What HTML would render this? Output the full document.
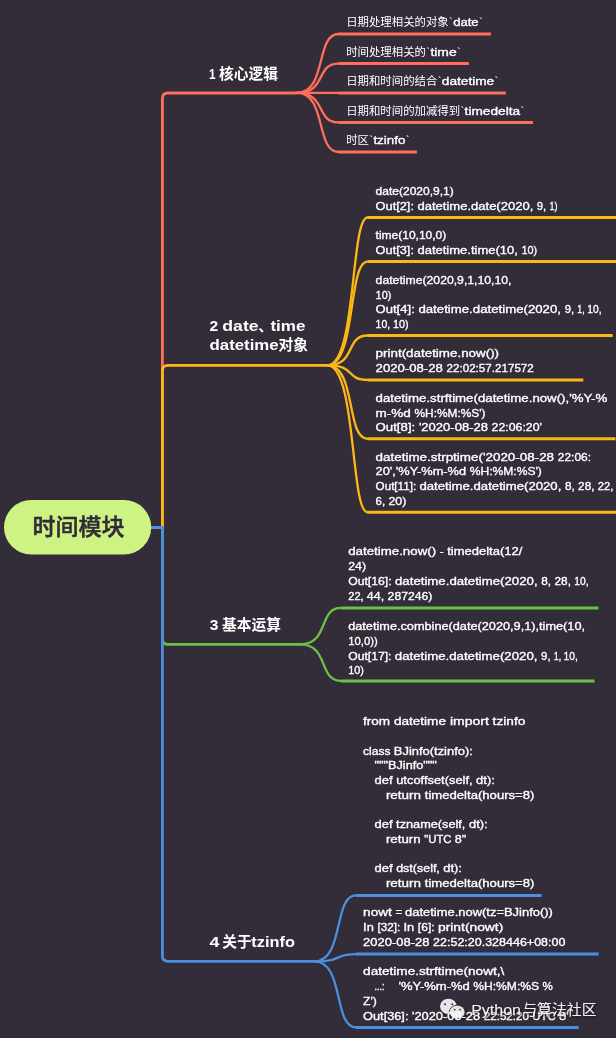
<!DOCTYPE html>
<html lang="zh-CN">
<head>
<meta charset="utf-8">
<title>时间模块</title>
<style>
html,body{margin:0;padding:0;background:#332c39;}
body{width:616px;height:1038px;overflow:hidden;}
svg{display:block;opacity:0.999;}
text{font-family:"Liberation Sans","Noto Sans CJK SC",sans-serif;fill:#fff;white-space:pre;}
.t text{font-size:11.6px;}
.t .l{stroke:#fff;stroke-width:0.35px;}
.t .c{font-size:11.4px;}
.title text{font-size:14.7px;font-weight:700;}
.root{font-size:23px;font-weight:500;fill:#322c3a;stroke:#322c3a;stroke-width:0.5px;}
.wm{font-size:14.9px;fill:#f2f2f2;}
</style>
</head>
<body>
<svg width="616" height="1038" viewBox="0 0 616 1038">
<defs><filter id="sh" x="-10%" y="-30%" width="120%" height="160%"><feGaussianBlur in="SourceAlpha" stdDeviation="0.9"/><feOffset dx="0.5" dy="1" result="b"/><feComponentTransfer><feFuncA type="linear" slope="0.7"/></feComponentTransfer><feMerge><feMergeNode/><feMergeNode in="SourceGraphic"/></feMerge></filter></defs>
<g fill="none" stroke-linecap="round" stroke-linejoin="round">
<path d="M150,527.3 H162.4 V98.5 Q162.4,93.0 167.9,93.0 H297" stroke="#ff6f59" stroke-width="2.8"/>
<path d="M297,92.9 C326.9,92.9 315.3,34.0 338.5,34.0" stroke="#ff6f59" stroke-width="2.3"/>
<path d="M338.5,34.0 H490.9" stroke="#ff6f59" stroke-width="3.0" stroke-linecap="butt"/>
<path d="M297,92.9 C326.9,92.9 315.3,63.6 338.5,63.6" stroke="#ff6f59" stroke-width="2.3"/>
<path d="M338.5,63.6 H468.9" stroke="#ff6f59" stroke-width="3.0" stroke-linecap="butt"/>
<path d="M297,92.9 C326.9,92.9 315.3,92.9 338.5,92.9" stroke="#ff6f59" stroke-width="2.3"/>
<path d="M338.5,92.9 H505.9" stroke="#ff6f59" stroke-width="3.0" stroke-linecap="butt"/>
<path d="M297,92.9 C326.9,92.9 315.3,122.4 338.5,122.4" stroke="#ff6f59" stroke-width="2.3"/>
<path d="M338.5,122.4 H533" stroke="#ff6f59" stroke-width="3.0" stroke-linecap="butt"/>
<path d="M297,92.9 C326.9,92.9 315.3,152.0 338.5,152.0" stroke="#ff6f59" stroke-width="2.3"/>
<path d="M338.5,152.0 H417" stroke="#ff6f59" stroke-width="3.0" stroke-linecap="butt"/>
<path d="M150,527.3 H162.4 V370.8 Q162.4,365.3 167.9,365.3 H327.5" stroke="#fdb813" stroke-width="2.8"/>
<path d="M327.5,365.3 C356.3,365.3 350.6,217.5 367.5,217.5" stroke="#fdb813" stroke-width="2.3"/>
<path d="M367.5,217.5 H620" stroke="#fdb813" stroke-width="3.0" stroke-linecap="butt"/>
<path d="M327.5,365.3 C356.3,365.3 347.8,261.6 367.5,261.6" stroke="#fdb813" stroke-width="2.3"/>
<path d="M367.5,261.6 H620" stroke="#fdb813" stroke-width="3.0" stroke-linecap="butt"/>
<path d="M327.5,365.3 C356.3,365.3 345.1,335.5 367.5,335.5" stroke="#fdb813" stroke-width="2.3"/>
<path d="M367.5,335.5 H612.7" stroke="#fdb813" stroke-width="3.0" stroke-linecap="butt"/>
<path d="M327.5,365.3 C356.3,365.3 345.1,379.9 367.5,379.9" stroke="#fdb813" stroke-width="2.3"/>
<path d="M367.5,379.9 H583.3" stroke="#fdb813" stroke-width="3.0" stroke-linecap="butt"/>
<path d="M327.5,365.3 C356.3,365.3 345.9,438.8 367.5,438.8" stroke="#fdb813" stroke-width="2.3"/>
<path d="M367.5,438.8 H615.5" stroke="#fdb813" stroke-width="3.0" stroke-linecap="butt"/>
<path d="M327.5,365.3 C356.3,365.3 350.5,512.3 367.5,512.3" stroke="#fdb813" stroke-width="2.3"/>
<path d="M367.5,512.3 H620" stroke="#fdb813" stroke-width="3.0" stroke-linecap="butt"/>
<path d="M150,527.3 H162.4 V638.9 Q162.4,644.4 167.9,644.4 H300" stroke="#6cc04a" stroke-width="2.8"/>
<path d="M300,644.4 C329.5,644.4 318.0,607.9 341,607.9" stroke="#6cc04a" stroke-width="2.3"/>
<path d="M341,607.9 H598.5" stroke="#6cc04a" stroke-width="3.0" stroke-linecap="butt"/>
<path d="M300,644.4 C329.5,644.4 318.0,680.9 341,680.9" stroke="#6cc04a" stroke-width="2.3"/>
<path d="M341,680.9 H594.5" stroke="#6cc04a" stroke-width="3.0" stroke-linecap="butt"/>
<path d="M150,527.3 H162.4 V955.8 Q162.4,961.3 167.9,961.3 H314.5" stroke="#4a8fe0" stroke-width="2.8"/>
<path d="M314.5,961.3 C344.4,961.3 333.1,895.4 356,895.4" stroke="#4a8fe0" stroke-width="2.3"/>
<path d="M356,895.4 H541.6" stroke="#4a8fe0" stroke-width="3.0" stroke-linecap="butt"/>
<path d="M314.5,961.3 C344.4,961.3 332.8,954.1 356,954.1" stroke="#4a8fe0" stroke-width="2.3"/>
<path d="M356,954.1 H598.6" stroke="#4a8fe0" stroke-width="3.0" stroke-linecap="butt"/>
<path d="M314.5,961.3 C344.4,961.3 333.2,1027.4 356,1027.4" stroke="#4a8fe0" stroke-width="2.3"/>
<path d="M356,1027.4 H578.7" stroke="#4a8fe0" stroke-width="3.0" stroke-linecap="butt"/>
</g>
<rect x="4" y="500" width="147.2" height="54.6" rx="27.3" ry="27.3" fill="#cdf483"/>
<text class="root" x="78.5" y="535" text-anchor="middle">时间模块</text>
<g class="title">
<text y="79.3"><tspan x="209.0" textLength="6.6" lengthAdjust="spacingAndGlyphs">1</tspan><tspan x="219.1">核心逻辑</tspan></text>
<text y="330.6"><tspan x="209.6" textLength="8.7" lengthAdjust="spacingAndGlyphs">2</tspan><tspan x="222.3" textLength="36.3" lengthAdjust="spacingAndGlyphs">date</tspan><tspan x="258.3">、</tspan><tspan x="270.4" textLength="35.0" lengthAdjust="spacingAndGlyphs">time</tspan></text>
<text y="350.4"><tspan x="209.5" textLength="69.2" lengthAdjust="spacingAndGlyphs">datetime</tspan><tspan x="278.5">对象</tspan></text>
<text y="629.6"><tspan x="209.8" textLength="8.7" lengthAdjust="spacingAndGlyphs">3</tspan><tspan x="222.1">基本运算</tspan></text>
<text y="946.7"><tspan x="209.6" textLength="9.9" lengthAdjust="spacingAndGlyphs">4</tspan><tspan x="222.3">关于</tspan><tspan x="251.3" textLength="43.6" lengthAdjust="spacingAndGlyphs">tzinfo</tspan></text>
</g>
<g filter="url(#sh)">
<ellipse cx="448.4" cy="1006.3" rx="8.4" ry="7.6" fill="#e6e6e6"/>
<ellipse cx="457.2" cy="1012.1" rx="7.9" ry="6.9" fill="#e6e6e6" stroke="#3a3440" stroke-width="0.9"/>
<g fill="#3a3440"><circle cx="445" cy="1004.2" r="1"/><circle cx="452.2" cy="1004.2" r="1"/><circle cx="454.7" cy="1009.6" r="0.9"/><circle cx="460" cy="1009.6" r="0.9"/></g>
</g>
<g class="t">
<text y="26.2"><tspan class="c" x="346.2">日期处理相关的对象</tspan><tspan class="bt" x="449.1">`</tspan><tspan class="l" x="453.2" textLength="25.4" lengthAdjust="spacingAndGlyphs">date</tspan><tspan class="bt" x="478.9">`</tspan></text>
<text y="55.8"><tspan class="c" x="346.2">时间处理相关的</tspan><tspan class="bt" x="426.3">`</tspan><tspan class="l" x="430.4" textLength="26.3" lengthAdjust="spacingAndGlyphs">time</tspan><tspan class="bt" x="457.0">`</tspan></text>
<text y="85.1"><tspan class="c" x="346.2">日期和时间的结合</tspan><tspan class="bt" x="437.7">`</tspan><tspan class="l" x="441.8" textLength="52.4" lengthAdjust="spacingAndGlyphs">datetime</tspan><tspan class="bt" x="494.5">`</tspan></text>
<text y="114.6"><tspan class="c" x="346.2">日期和时间的加减得到</tspan><tspan class="bt" x="460.5">`</tspan><tspan class="l" x="464.6" textLength="55.5" lengthAdjust="spacingAndGlyphs">timedelta</tspan><tspan class="bt" x="520.4">`</tspan></text>
<text y="144.2"><tspan class="c" x="346.2">时区</tspan><tspan class="bt" x="369.3">`</tspan><tspan class="l" x="373.4" textLength="32.1" lengthAdjust="spacingAndGlyphs">tzinfo</tspan><tspan class="bt" x="405.8">`</tspan></text>
<text y="195.1"><tspan class="l" x="375.6" textLength="78.2" lengthAdjust="spacingAndGlyphs">date(2020,9,1)</tspan></text>
<text y="209.8"><tspan class="l" x="375.6" textLength="41.9" lengthAdjust="spacingAndGlyphs">Out[2]: </tspan><tspan class="l" x="417.5" textLength="119.4" lengthAdjust="spacingAndGlyphs">datetime.date(2020, </tspan><tspan class="l" x="536.8" textLength="12.6" lengthAdjust="spacingAndGlyphs">9, </tspan><tspan class="l" x="549.4" textLength="8.1" lengthAdjust="spacingAndGlyphs">1)</tspan></text>
<text y="238.9"><tspan class="l" x="375.6" textLength="70.7" lengthAdjust="spacingAndGlyphs">time(10,10,0)</tspan></text>
<text y="253.6"><tspan class="l" x="375.6" textLength="41.9" lengthAdjust="spacingAndGlyphs">Out[3]: </tspan><tspan class="l" x="417.5" textLength="103.9" lengthAdjust="spacingAndGlyphs">datetime.time(10, </tspan><tspan class="l" x="521.4" textLength="15.7" lengthAdjust="spacingAndGlyphs">10)</tspan></text>
<text y="283.8"><tspan class="l" x="375.6" textLength="135.9" lengthAdjust="spacingAndGlyphs">datetime(2020,9,1,10,10,</tspan></text>
<text y="298.5"><tspan class="l" x="375.6" textLength="15.7" lengthAdjust="spacingAndGlyphs">10)</tspan></text>
<text y="313.2"><tspan class="l" x="375.6" textLength="42.8" lengthAdjust="spacingAndGlyphs">Out[4]: </tspan><tspan class="l" x="418.4" textLength="146.3" lengthAdjust="spacingAndGlyphs">datetime.datetime(2020, </tspan><tspan class="l" x="564.7" textLength="12.6" lengthAdjust="spacingAndGlyphs">9, </tspan><tspan class="l" x="577.3" textLength="9.9" lengthAdjust="spacingAndGlyphs">1, </tspan><tspan class="l" x="587.2" textLength="14.3" lengthAdjust="spacingAndGlyphs">10,</tspan></text>
<text y="327.9"><tspan class="l" x="375.6" textLength="17.4" lengthAdjust="spacingAndGlyphs">10, </tspan><tspan class="l" x="393.0" textLength="15.7" lengthAdjust="spacingAndGlyphs">10)</tspan></text>
<text y="357.0"><tspan class="l" x="375.6" textLength="123.5" lengthAdjust="spacingAndGlyphs">print(datetime.now())</tspan></text>
<text y="371.7"><tspan class="l" x="375.6" textLength="70.9" lengthAdjust="spacingAndGlyphs">2020-08-28 </tspan><tspan class="l" x="446.5" textLength="87.3" lengthAdjust="spacingAndGlyphs">22:02:57.217572</tspan></text>
<text y="401.8"><tspan class="l" x="375.6" textLength="231.7" lengthAdjust="spacingAndGlyphs">datetime.strftime(datetime.now(),'%Y-%</tspan></text>
<text y="416.5"><tspan class="l" x="375.6" textLength="38.9" lengthAdjust="spacingAndGlyphs">m-%d </tspan><tspan class="l" x="414.5" textLength="71.0" lengthAdjust="spacingAndGlyphs">%H:%M:%S')</tspan></text>
<text y="431.2"><tspan class="l" x="375.6" textLength="43.3" lengthAdjust="spacingAndGlyphs">Out[8]: </tspan><tspan class="l" x="418.9" textLength="72.7" lengthAdjust="spacingAndGlyphs">'2020-08-28 </tspan><tspan class="l" x="491.6" textLength="50.3" lengthAdjust="spacingAndGlyphs">22:06:20'</tspan></text>
<text y="460.6"><tspan class="l" x="375.6" textLength="182.2" lengthAdjust="spacingAndGlyphs">datetime.strptime('2020-08-28 </tspan><tspan class="l" x="557.8" textLength="33.2" lengthAdjust="spacingAndGlyphs">22:06:</tspan></text>
<text y="475.3"><tspan class="l" x="375.6" textLength="94.1" lengthAdjust="spacingAndGlyphs">20','%Y-%m-%d </tspan><tspan class="l" x="469.7" textLength="72.2" lengthAdjust="spacingAndGlyphs">%H:%M:%S')</tspan></text>
<text y="490.0"><tspan class="l" x="375.6" textLength="43.8" lengthAdjust="spacingAndGlyphs">Out[11]: </tspan><tspan class="l" x="419.4" textLength="145.6" lengthAdjust="spacingAndGlyphs">datetime.datetime(2020, </tspan><tspan class="l" x="565.0" textLength="13.1" lengthAdjust="spacingAndGlyphs">8, </tspan><tspan class="l" x="578.1" textLength="19.6" lengthAdjust="spacingAndGlyphs">28, </tspan><tspan class="l" x="597.7" textLength="15.7" lengthAdjust="spacingAndGlyphs">22,</tspan></text>
<text y="504.7"><tspan class="l" x="375.6" textLength="12.8" lengthAdjust="spacingAndGlyphs">6, </tspan><tspan class="l" x="388.4" textLength="18.0" lengthAdjust="spacingAndGlyphs">20)</tspan></text>
<text y="555.4"><tspan class="l" x="348.2" textLength="91.6" lengthAdjust="spacingAndGlyphs">datetime.now() </tspan><tspan class="l" x="439.8" textLength="7.4" lengthAdjust="spacingAndGlyphs">- </tspan><tspan class="l" x="447.2" textLength="75.1" lengthAdjust="spacingAndGlyphs">timedelta(12/</tspan></text>
<text y="570.1"><tspan class="l" x="348.2" textLength="17.8" lengthAdjust="spacingAndGlyphs">24)</tspan></text>
<text y="584.8"><tspan class="l" x="348.2" textLength="46.8" lengthAdjust="spacingAndGlyphs">Out[16]: </tspan><tspan class="l" x="395.0" textLength="146.3" lengthAdjust="spacingAndGlyphs">datetime.datetime(2020, </tspan><tspan class="l" x="541.3" textLength="13.1" lengthAdjust="spacingAndGlyphs">8, </tspan><tspan class="l" x="554.5" textLength="19.7" lengthAdjust="spacingAndGlyphs">28, </tspan><tspan class="l" x="574.2" textLength="14.3" lengthAdjust="spacingAndGlyphs">10,</tspan></text>
<text y="599.5"><tspan class="l" x="348.2" textLength="18.6" lengthAdjust="spacingAndGlyphs">22, </tspan><tspan class="l" x="366.8" textLength="20.8" lengthAdjust="spacingAndGlyphs">44, </tspan><tspan class="l" x="387.6" textLength="44.8" lengthAdjust="spacingAndGlyphs">287246)</tspan></text>
<text y="630.1"><tspan class="l" x="348.2" textLength="236.8" lengthAdjust="spacingAndGlyphs">datetime.combine(date(2020,9,1),time(10,</tspan></text>
<text y="644.8"><tspan class="l" x="348.2" textLength="29.5" lengthAdjust="spacingAndGlyphs">10,0))</tspan></text>
<text y="659.5"><tspan class="l" x="348.2" textLength="46.6" lengthAdjust="spacingAndGlyphs">Out[17]: </tspan><tspan class="l" x="394.8" textLength="146.3" lengthAdjust="spacingAndGlyphs">datetime.datetime(2020, </tspan><tspan class="l" x="541.1" textLength="12.6" lengthAdjust="spacingAndGlyphs">9, </tspan><tspan class="l" x="553.7" textLength="9.9" lengthAdjust="spacingAndGlyphs">1, </tspan><tspan class="l" x="563.6" textLength="14.3" lengthAdjust="spacingAndGlyphs">10,</tspan></text>
<text y="674.2"><tspan class="l" x="348.2" textLength="15.7" lengthAdjust="spacingAndGlyphs">10)</tspan></text>
<text y="725.2"><tspan class="l" x="363.1" textLength="30.8" lengthAdjust="spacingAndGlyphs">from </tspan><tspan class="l" x="393.9" textLength="55.9" lengthAdjust="spacingAndGlyphs">datetime </tspan><tspan class="l" x="449.9" textLength="42.8" lengthAdjust="spacingAndGlyphs">import </tspan><tspan class="l" x="492.6" textLength="32.7" lengthAdjust="spacingAndGlyphs">tzinfo</tspan></text>
<text y="754.6"><tspan class="l" x="363.1" textLength="30.7" lengthAdjust="spacingAndGlyphs">class </tspan><tspan class="l" x="393.8" textLength="79.1" lengthAdjust="spacingAndGlyphs">BJinfo(tzinfo):</tspan></text>
<text y="769.3"><tspan class="l" x="374.5" textLength="62.3" lengthAdjust="spacingAndGlyphs">"""BJinfo"""</tspan></text>
<text y="784.0"><tspan class="l" x="374.5" textLength="21.7" lengthAdjust="spacingAndGlyphs">def </tspan><tspan class="l" x="396.2" textLength="80.0" lengthAdjust="spacingAndGlyphs">utcoffset(self, </tspan><tspan class="l" x="476.1" textLength="18.8" lengthAdjust="spacingAndGlyphs">dt):</tspan></text>
<text y="798.7"><tspan class="l" x="385.9" textLength="38.9" lengthAdjust="spacingAndGlyphs">return </tspan><tspan class="l" x="424.8" textLength="109.6" lengthAdjust="spacingAndGlyphs">timedelta(hours=8)</tspan></text>
<text y="828.1"><tspan class="l" x="374.5" textLength="21.6" lengthAdjust="spacingAndGlyphs">def </tspan><tspan class="l" x="396.1" textLength="72.8" lengthAdjust="spacingAndGlyphs">tzname(self, </tspan><tspan class="l" x="469.0" textLength="18.7" lengthAdjust="spacingAndGlyphs">dt):</tspan></text>
<text y="842.8"><tspan class="l" x="385.9" textLength="38.4" lengthAdjust="spacingAndGlyphs">return </tspan><tspan class="l" x="424.3" textLength="30.3" lengthAdjust="spacingAndGlyphs">"UTC </tspan><tspan class="l" x="454.7" textLength="11.5" lengthAdjust="spacingAndGlyphs">8"</tspan></text>
<text y="872.2"><tspan class="l" x="374.5" textLength="21.7" lengthAdjust="spacingAndGlyphs">def </tspan><tspan class="l" x="396.2" textLength="47.1" lengthAdjust="spacingAndGlyphs">dst(self, </tspan><tspan class="l" x="443.2" textLength="18.8" lengthAdjust="spacingAndGlyphs">dt):</tspan></text>
<text y="886.9"><tspan class="l" x="385.9" textLength="38.9" lengthAdjust="spacingAndGlyphs">return </tspan><tspan class="l" x="424.8" textLength="109.6" lengthAdjust="spacingAndGlyphs">timedelta(hours=8)</tspan></text>
<text y="916.4"><tspan class="l" x="363.1" textLength="32.4" lengthAdjust="spacingAndGlyphs">nowt </tspan><tspan class="l" x="395.5" textLength="9.6" lengthAdjust="spacingAndGlyphs">= </tspan><tspan class="l" x="405.1" textLength="147.8" lengthAdjust="spacingAndGlyphs">datetime.now(tz=BJinfo())</tspan></text>
<text y="931.1"><tspan class="l" x="363.1" textLength="14.3" lengthAdjust="spacingAndGlyphs">In </tspan><tspan class="l" x="377.4" textLength="26.1" lengthAdjust="spacingAndGlyphs">[32]: </tspan><tspan class="l" x="403.5" textLength="14.3" lengthAdjust="spacingAndGlyphs">In </tspan><tspan class="l" x="417.8" textLength="20.2" lengthAdjust="spacingAndGlyphs">[6]: </tspan><tspan class="l" x="438.0" textLength="65.3" lengthAdjust="spacingAndGlyphs">print(nowt)</tspan></text>
<text y="945.8"><tspan class="l" x="363.1" textLength="70.0" lengthAdjust="spacingAndGlyphs">2020-08-28 </tspan><tspan class="l" x="433.1" textLength="132.3" lengthAdjust="spacingAndGlyphs">22:52:20.328446+08:00</tspan></text>
<text y="975.4"><tspan class="l" x="363.1" textLength="141.2" lengthAdjust="spacingAndGlyphs">datetime.strftime(nowt,\</tspan></text>
<text y="1004.8"><tspan class="l" x="363.1" textLength="13.8" lengthAdjust="spacingAndGlyphs">Z')</tspan></text>
<text y="1019.5"><tspan class="l" x="363.1" textLength="48.9" lengthAdjust="spacingAndGlyphs">Out[36]: </tspan><tspan class="l" x="412.0" textLength="71.7" lengthAdjust="spacingAndGlyphs">'2020-08-28 </tspan><tspan class="l" x="483.7" textLength="48.6" lengthAdjust="spacingAndGlyphs">22:52:20 </tspan><tspan class="l" x="532.3" textLength="26.7" lengthAdjust="spacingAndGlyphs">UTC </tspan><tspan class="l" x="558.9" textLength="9.8" lengthAdjust="spacingAndGlyphs">8'</tspan></text>
<text y="990.1"><tspan class="l" x="374.5" textLength="10.0" lengthAdjust="spacingAndGlyphs">...:</tspan></text>
<text y="990.1"><tspan class="l" x="398.5" textLength="74.8" lengthAdjust="spacingAndGlyphs">'%Y-%m-%d </tspan><tspan class="l" x="473.3" textLength="69.1" lengthAdjust="spacingAndGlyphs">%H:%M:%S </tspan><tspan class="l" x="542.4" textLength="10.3" lengthAdjust="spacingAndGlyphs">%</tspan></text>
</g>
<text class="wm" y="1015.4" filter="url(#sh)"><tspan x="471.2" textLength="49.8" lengthAdjust="spacingAndGlyphs">Python</tspan><tspan x="522.2">与算法社区</tspan></text>
</svg>
</body>
</html>
